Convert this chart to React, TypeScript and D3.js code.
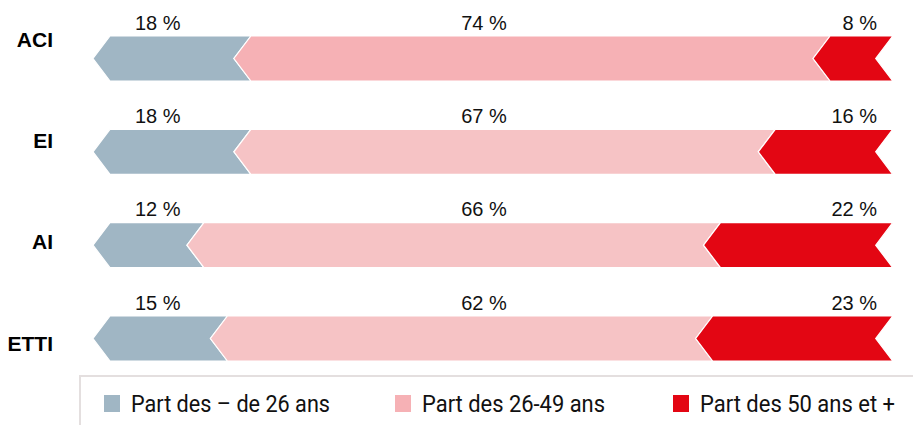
import React from "react";
import * as d3 from "d3";

const categories = ["ACI", "EI", "AI", "ETTI"];
const seriesNames = ["Part des – de 26 ans", "Part des 26-49 ans", "Part des 50 ans et +"];
const under26 = [18, 18, 12, 15];
const from26to49 = [74, 67, 66, 62];
const over50 = [8, 15, 22, 23];
const labelUnder26 = ["18 %", "18 %", "12 %", "15 %"];
const labelMid = ["74 %", "67 %", "66 %", "62 %"];
const labelOver50 = ["8 %", "16 %", "22 %", "23 %"];

const W = 913;
const H = 425;
const BLUE = "#a0b6c4";
const PINK_DARK = "#f6b1b5";
const PINK = "#f6c3c5";
const RED = "#e30613";

export default function App() {
  const x = d3.scaleLinear().domain([0, 100]).range([110, 892.7]);
  const rowTop = d3.scalePoint<string>().domain(categories).range([36, 316]);
  const catBase = d3.scalePoint<string>().domain(categories).range([46.5, 350.5]);
  const barH = 45;
  const dip = 17;

  const chevron = (x0: number, x1: number, top: number) => {
    const mid = top + barH / 2;
    const bot = top + barH;
    const pts: [number, number][] = [
      [x0, top],
      [x1, top],
      [x1 - dip, mid],
      [x1, bot],
      [x0, bot],
      [x0 - dip, mid],
    ];
    return d3.line()(pts)! + "Z";
  };

  const rows = categories.map((c, i) => {
    const vals = [under26[i], from26to49[i], over50[i]];
    const cols = [BLUE, i === 0 ? PINK_DARK : PINK, RED];
    let acc = 0;
    const segs = vals.map((v, j) => {
      const s = { x0: x(acc), x1: x(acc + v), color: cols[j] };
      acc += v;
      return s;
    });
    return { c, i, segs };
  });

  const legendColors = [BLUE, PINK_DARK, RED];
  const legendX = [104, 395, 673];
  const legendLen = [199, 183, 195];

  return (
    <svg
      width={W}
      height={H}
      style={{ position: "absolute", left: 0, top: 0, background: "#fff" }}
      fontFamily="'Liberation Sans', Arial, sans-serif"
    >
      {rows.map((r) => {
        const top = rowTop(r.c)!;
        return (
          <g key={r.c}>
            {r.segs.map((s, j) => (
              <path key={j} d={chevron(s.x0, s.x1, top)} fill={s.color} stroke="#fff" strokeWidth={1.2} />
            ))}
            <text x={53} y={catBase(r.c)} textAnchor="end" fontWeight="bold" fontSize={21} fill="#000">
              {r.c}
            </text>
            <text x={135} y={top - 6.5} fontSize={20} fill="#111">{labelUnder26[r.i]}</text>
            <text x={484} y={top - 6.5} fontSize={20} fill="#111" textAnchor="middle">{labelMid[r.i]}</text>
            <text x={877} y={top - 6.5} fontSize={20} fill="#111" textAnchor="end">{labelOver50[r.i]}</text>
          </g>
        );
      })}
      <rect x={80} y={376} width={860} height={80} fill="none" stroke="#e4dfdf" strokeWidth={2} />
      {seriesNames.map((n, k) => (
        <g key={n}>
          <rect x={legendX[k]} y={395} width={16} height={17} fill={legendColors[k]} />
          <text
            x={legendX[k] + 27}
            y={412}
            fontSize={23}
            fill="#111"
            fontFamily="Roboto, sans-serif"
            textLength={legendLen[k]}
            lengthAdjust="spacingAndGlyphs"
          >
            {n}
          </text>
        </g>
      ))}
    </svg>
  );
}
